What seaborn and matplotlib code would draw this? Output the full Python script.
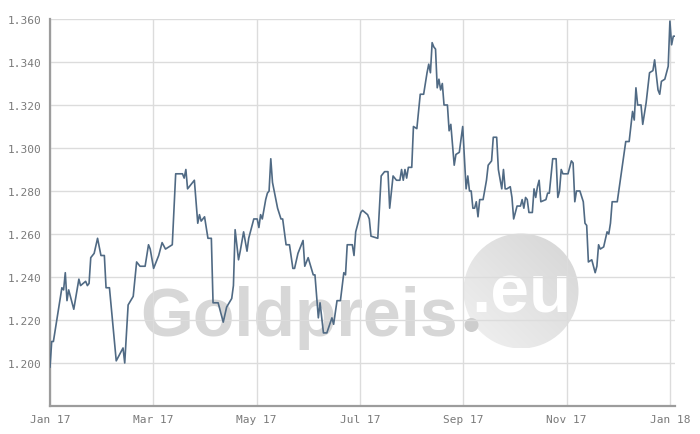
import matplotlib
matplotlib.use("Agg")
import matplotlib.pyplot as plt
import matplotlib.dates as mdates
from matplotlib.ticker import MultipleLocator, FormatStrFormatter
from matplotlib.patches import Circle
import numpy as np
import pandas as pd
import seaborn as sns

# ---------------- data ----------------
dates = [
    "2017-01-01", "2017-01-02", "2017-01-03", "2017-01-05", "2017-01-08", "2017-01-09", "2017-01-10", "2017-01-11", "2017-01-12", "2017-01-15", "2017-01-18", "2017-01-19", "2017-01-22", "2017-01-23", "2017-01-24", "2017-01-25", "2017-01-27", "2017-01-29", "2017-01-31",
    "2017-02-02", "2017-02-03", "2017-02-05", "2017-02-07", "2017-02-09", "2017-02-13", "2017-02-14", "2017-02-16", "2017-02-19", "2017-02-21", "2017-02-23", "2017-02-26", "2017-02-28",
    "2017-03-01", "2017-03-03", "2017-03-06", "2017-03-08", "2017-03-10", "2017-03-14", "2017-03-16", "2017-03-20", "2017-03-21", "2017-03-22", "2017-03-23", "2017-03-25", "2017-03-27", "2017-03-29", "2017-03-30", "2017-03-31",
    "2017-04-02", "2017-04-04", "2017-04-06", "2017-04-07", "2017-04-10", "2017-04-13", "2017-04-15", "2017-04-18", "2017-04-19", "2017-04-20", "2017-04-22", "2017-04-23", "2017-04-25", "2017-04-27", "2017-04-28",
    "2017-05-01", "2017-05-03", "2017-05-04", "2017-05-05", "2017-05-06", "2017-05-08", "2017-05-09", "2017-05-10", "2017-05-11", "2017-05-12", "2017-05-15", "2017-05-17", "2017-05-18", "2017-05-20", "2017-05-22", "2017-05-24", "2017-05-25", "2017-05-27", "2017-05-30", "2017-05-31",
    "2017-06-02", "2017-06-05", "2017-06-06", "2017-06-08", "2017-06-09", "2017-06-11", "2017-06-13", "2017-06-16", "2017-06-17", "2017-06-19", "2017-06-21", "2017-06-23", "2017-06-24", "2017-06-25", "2017-06-28", "2017-06-29", "2017-06-30",
    "2017-07-03", "2017-07-04", "2017-07-07", "2017-07-08", "2017-07-09", "2017-07-13", "2017-07-15", "2017-07-17", "2017-07-19", "2017-07-20", "2017-07-22", "2017-07-24", "2017-07-26", "2017-07-27", "2017-07-28", "2017-07-29", "2017-07-30", "2017-07-31",
    "2017-08-02", "2017-08-03", "2017-08-05", "2017-08-07", "2017-08-09", "2017-08-11", "2017-08-12", "2017-08-13", "2017-08-14", "2017-08-15", "2017-08-16", "2017-08-17", "2017-08-18", "2017-08-19", "2017-08-20", "2017-08-21", "2017-08-23", "2017-08-24", "2017-08-25", "2017-08-27", "2017-08-28", "2017-08-30",
    "2017-09-01", "2017-09-03", "2017-09-04", "2017-09-05", "2017-09-06", "2017-09-07", "2017-09-08", "2017-09-09", "2017-09-10", "2017-09-11", "2017-09-13", "2017-09-15", "2017-09-16", "2017-09-18", "2017-09-19", "2017-09-21", "2017-09-22", "2017-09-24", "2017-09-25", "2017-09-26", "2017-09-27", "2017-09-29", "2017-09-30",
    "2017-10-01", "2017-10-03", "2017-10-05", "2017-10-06", "2017-10-07", "2017-10-08", "2017-10-09", "2017-10-10", "2017-10-12", "2017-10-13", "2017-10-14", "2017-10-15", "2017-10-16", "2017-10-17", "2017-10-20", "2017-10-21", "2017-10-22", "2017-10-24", "2017-10-26", "2017-10-27", "2017-10-28", "2017-10-29", "2017-10-30",
    "2017-11-02", "2017-11-04", "2017-11-05", "2017-11-06", "2017-11-07", "2017-11-09", "2017-11-11", "2017-11-12", "2017-11-13", "2017-11-14", "2017-11-16", "2017-11-18", "2017-11-19", "2017-11-20", "2017-11-21", "2017-11-23", "2017-11-25", "2017-11-26", "2017-11-27", "2017-11-28",
    "2017-12-01", "2017-12-06", "2017-12-08", "2017-12-10", "2017-12-11", "2017-12-12", "2017-12-13", "2017-12-15", "2017-12-16", "2017-12-18", "2017-12-20", "2017-12-22", "2017-12-23", "2017-12-25", "2017-12-26", "2017-12-27", "2017-12-29", "2017-12-31",
    "2018-01-01", "2018-01-02", "2018-01-03", "2018-01-04",
]

rates = [
    1.198, 1.210, 1.210, 1.220, 1.235, 1.234, 1.242, 1.229, 1.234, 1.225, 1.239, 1.236, 1.238, 1.236, 1.237, 1.249, 1.251, 1.258, 1.250,
    1.250, 1.235, 1.235, 1.218, 1.201, 1.207, 1.200, 1.227, 1.231, 1.247, 1.245, 1.245, 1.255,
    1.253, 1.244, 1.250, 1.256, 1.253, 1.255, 1.288, 1.288, 1.286, 1.290, 1.281, 1.283, 1.285, 1.265, 1.269, 1.266,
    1.268, 1.258, 1.258, 1.228, 1.228, 1.219, 1.226, 1.230, 1.236, 1.262, 1.248, 1.252, 1.261, 1.252, 1.258,
    1.267, 1.267, 1.263, 1.269, 1.267, 1.276, 1.279, 1.280, 1.295, 1.284, 1.272, 1.267, 1.267, 1.255, 1.255, 1.244, 1.244, 1.251, 1.257, 1.245,
    1.249, 1.241, 1.241, 1.221, 1.228, 1.214, 1.214, 1.221, 1.218, 1.229, 1.229, 1.242, 1.241, 1.255, 1.255, 1.250, 1.261,
    1.270, 1.271, 1.269, 1.267, 1.259, 1.258, 1.287, 1.289, 1.289, 1.272, 1.287, 1.285, 1.285, 1.290, 1.285, 1.290, 1.286, 1.291,
    1.291, 1.310, 1.309, 1.325, 1.325, 1.335, 1.339, 1.335, 1.349, 1.347, 1.346, 1.328, 1.332, 1.327, 1.330, 1.320, 1.320, 1.308, 1.311, 1.292, 1.297, 1.298,
    1.310, 1.281, 1.287, 1.280, 1.280, 1.272, 1.272, 1.275, 1.268, 1.276, 1.276, 1.285, 1.292, 1.294, 1.305, 1.305, 1.290, 1.281, 1.290, 1.281, 1.281, 1.282, 1.277,
    1.267, 1.273, 1.273, 1.276, 1.272, 1.277, 1.276, 1.270, 1.270, 1.281, 1.277, 1.282, 1.285, 1.275, 1.276, 1.279, 1.279, 1.295, 1.295, 1.277, 1.280, 1.290, 1.288,
    1.288, 1.294, 1.293, 1.275, 1.280, 1.280, 1.275, 1.265, 1.264, 1.247, 1.248, 1.242, 1.245, 1.255, 1.253, 1.254, 1.261, 1.260, 1.265, 1.275,
    1.275, 1.303, 1.303, 1.317, 1.313, 1.328, 1.320, 1.320, 1.311, 1.321, 1.335, 1.336, 1.341, 1.327, 1.325, 1.331, 1.332, 1.338,
    1.359, 1.348, 1.352, 1.352,
]

tick_labels = ["Jan 17", "Mar 17", "May 17", "Jul 17", "Sep 17", "Nov 17", "Jan 18"]
axis_start = "2017-01-01"
axis_tick_end = "2018-01-01"
y_ticks = [1.200, 1.220, 1.240, 1.260, 1.280, 1.300, 1.320, 1.340, 1.360]
y_range = [1.180, 1.360]
watermark_main = "Goldpreis"
watermark_suffix = ".eu"

# ---------------- style ----------------
sns.set_style("white")
plt.rcParams['font.family'] = ['DejaVu Sans Mono', 'DejaVu Sans']

df = pd.DataFrame({"date": pd.to_datetime(dates), "rate": rates})

W, H = 700, 435
fig = plt.figure(figsize=(W / 100, H / 100), dpi=100)
ax = fig.add_axes([50 / W, 1 - 407 / H, 625 / W, 387 / H])

# ---- watermark (behind everything) ----
wm_font = ['Liberation Sans', 'DejaVu Sans']
ax.text(1.40, 0.99, watermark_main, transform=fig.dpi_scale_trans, fontsize=49,
        fontweight='bold', family=wm_font, color='#d7d7d7', ha='left', va='baseline',
        zorder=0.1, clip_on=False)

cx, cy, r = 5.21, 1.43, 0.575
gx, gy = np.meshgrid(np.linspace(0, 1, 64), np.linspace(0, 1, 64))
grad = 0.5 * (gx + (1 - gy))  # 0 at top-left, 1 at bottom-right (origin upper)
img = ax.imshow(grad, cmap=matplotlib.colors.LinearSegmentedColormap.from_list(
                    "wm", ["#f1f1f1", "#d5d5d5"]),
                extent=[cx - r, cx + r, cy - r, cy + r], origin='upper',
                transform=fig.dpi_scale_trans, aspect='auto', zorder=0.15,
                interpolation='bilinear')
clip_circ = Circle((cx, cy), r, transform=fig.dpi_scale_trans)
img.set_clip_path(clip_circ)
ax.add_artist(Circle((4.715, 1.09), 0.07, transform=fig.dpi_scale_trans,
                     facecolor='#cdcdcd', edgecolor='none', zorder=0.16))
ax.text(5.215, 1.22, watermark_suffix, transform=fig.dpi_scale_trans, fontsize=50,
        fontweight='bold', family=wm_font, color='white', ha='center', va='baseline',
        zorder=0.2, clip_on=False)

sns.lineplot(data=df, x="date", y="rate", ax=ax, color="#506a84",
             linewidth=1.2, zorder=3)

# x axis: 7 equally spaced ticks over one year
t0 = mdates.date2num(pd.Timestamp(axis_start))
t1 = mdates.date2num(pd.Timestamp(axis_tick_end))
tick_pos = [t0 + k * (t1 - t0) / (len(tick_labels) - 1) for k in range(len(tick_labels))]
ax.set_xticks(tick_pos)
ax.set_xticklabels(tick_labels)
ax.set_xlim(t0, mdates.date2num(df["date"].iloc[-1]))

ax.set_ylim(*y_range)
ax.set_yticks(y_ticks)
ax.yaxis.set_major_formatter(FormatStrFormatter('%.3f'))
ax.yaxis.set_minor_locator(MultipleLocator(0.01))
ax.set_aspect('auto')

ax.set_xlabel("")
ax.set_ylabel("")

ax.set_axisbelow(True)
ax.grid(True, which='major', color='#dcdcdc', linewidth=1.0)

for s in ['top', 'right']:
    ax.spines[s].set_visible(False)
for s in ['left', 'bottom']:
    ax.spines[s].set_color('#9c9c9c')
    ax.spines[s].set_linewidth(1.6)

ax.tick_params(axis='both', which='major', direction='in', length=5, width=1,
               color='#9c9c9c', labelcolor='#7a7a7a', labelsize=8, pad=6)
ax.tick_params(axis='y', which='minor', direction='in', length=3.5, width=1,
               color='#9c9c9c')

fig.savefig("out.png", dpi=100)
